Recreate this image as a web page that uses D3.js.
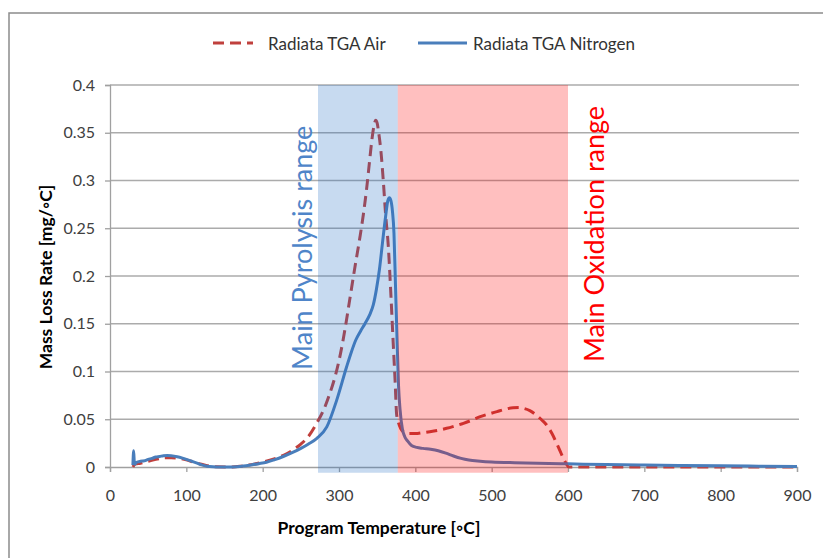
<!DOCTYPE html>
<html>
<head>
<meta charset="utf-8">
<script src="https://cdn.jsdelivr.net/npm/d3@7"></script>
<style>
  body { margin: 0; background: #ffffff; }
  text { font-family: Lato, "Open Sans", "Noto Sans", sans-serif; }
</style>
</head>
<body>
<svg id="chart" width="823" height="558"></svg>
<script>
// Derivative thermogravimetry of radiata pine: mass loss rate vs programme temperature
const airTemp = [30, 33, 40, 50, 60, 70, 80, 90, 100, 110, 120, 130, 140, 155, 170, 185, 200, 215, 228, 240,
  250, 260, 271, 280, 288, 295, 301, 308, 314, 321, 327.5, 332, 336, 340, 343, 346, 348, 350, 352, 355,
  358, 361, 364.6, 368, 371, 373.5, 375.5, 377.7, 381, 385, 392, 400, 410, 419, 430, 441, 452, 463, 474,
  485, 496, 507, 518, 528, 536, 542, 550, 559, 566, 572, 579, 585, 590, 594, 598, 601, 650, 700, 800, 900];
const airRate = [0.0, 0.003, 0.004, 0.006, 0.008, 0.0095, 0.0098, 0.009, 0.0075, 0.005, 0.0028, 0.001, 0.0002,
  0.0, 0.0008, 0.0025, 0.005, 0.0085, 0.0125, 0.018, 0.024, 0.032, 0.046, 0.060, 0.077, 0.095, 0.115, 0.145,
  0.175, 0.21, 0.241, 0.265, 0.29, 0.32, 0.342, 0.358, 0.363, 0.36, 0.35, 0.33, 0.30, 0.265, 0.231, 0.18,
  0.13, 0.09, 0.055, 0.047, 0.040, 0.0365, 0.035, 0.035, 0.036, 0.037, 0.0385, 0.0405, 0.043, 0.0457,
  0.049, 0.0527, 0.0555, 0.058, 0.0605, 0.062, 0.0622, 0.0614, 0.059, 0.054, 0.049, 0.044, 0.035, 0.025,
  0.016, 0.009, 0.003, 0.0, 0.0, 0.0, 0.0, 0.0];

const n2Temp = [30, 31, 32, 35, 40, 45, 50, 55, 60, 65, 70, 75, 80, 88, 95, 100, 107, 114, 120, 127, 135,
  145, 160, 175, 185, 195, 205, 215, 227, 240, 250, 260, 271, 284, 297, 310, 316, 322, 328, 334, 340, 345,
  349, 353, 357, 361, 364, 366, 368, 370, 372, 374, 376, 378, 380, 383, 386, 390, 395, 402, 410, 420, 430,
  440, 450, 460, 470, 485, 500, 530, 560, 600, 650, 700, 750, 800, 850, 900];
const n2Rate = [0.002, 0.017, 0.003, 0.005, 0.006, 0.0065, 0.008, 0.009, 0.0105, 0.011, 0.0118, 0.012,
  0.0118, 0.0108, 0.0093, 0.008, 0.006, 0.004, 0.0022, 0.0008, 0.0002, 0.0, 0.0, 0.001, 0.0022, 0.0035,
  0.005, 0.0075, 0.011, 0.0155, 0.0195, 0.024, 0.030, 0.042, 0.070, 0.105, 0.120, 0.133, 0.142, 0.150,
  0.159, 0.170, 0.186, 0.207, 0.235, 0.262, 0.279, 0.282, 0.279, 0.268, 0.245, 0.19, 0.135, 0.085, 0.06,
  0.04, 0.032, 0.027, 0.0225, 0.0205, 0.0195, 0.0185, 0.017, 0.0145, 0.0115, 0.009, 0.0073, 0.0061,
  0.0053, 0.0045, 0.004, 0.0033, 0.0025, 0.002, 0.0016, 0.0012, 0.0009, 0.0006];

const seriesNames = ["Radiata TGA Air", "Radiata TGA Nitrogen"];

// Temperature ranges highlighted on the plot
const rangeNames = ["Main Pyrolysis range", "Main Oxidation range"];
const rangeStart = [272.5, 377];
const rangeEnd = [377, 600];
const rangeLabelTemp = [250.5, 634];
const rangeLabelRate = [0.2295, 0.244];

const xTicks = [0, 100, 200, 300, 400, 500, 600, 700, 800, 900];
const yTicks = [0, 0.05, 0.1, 0.15, 0.2, 0.25, 0.3, 0.35, 0.4];
const yTickLabels = ["0", "0.05", "0.1", "0.15", "0.2", "0.25", "0.3", "0.35", "0.4"];

const W = 823, H = 558;
const margin = { top: 85, right: 26, bottom: 91, left: 110 };
const innerW = W - margin.left - margin.right;
const innerH = H - margin.top - margin.bottom;

const svg = d3.select("#chart");

// outer chart frame
svg.append("rect")
  .attr("x", 9).attr("y", 13)
  .attr("width", W).attr("height", H)
  .attr("fill", "none").attr("stroke", "#8c8c8c").attr("stroke-width", 1.5);

const g = svg.append("g").attr("transform", `translate(${margin.left},${margin.top})`);

const x = d3.scaleLinear().domain([0, 900]).range([0, innerW]);
const y = d3.scaleLinear().domain([0, 0.4]).range([innerH, 0]);

// horizontal gridlines
g.append("g").selectAll("line").data(yTicks.filter(d => d > 0)).join("line")
  .attr("x1", 0).attr("x2", innerW + 2)
  .attr("y1", d => y(d)).attr("y2", d => y(d))
  .attr("stroke", "#ababab").attr("stroke-width", 1.3);

// axes
const yAxis = g.append("g")
  .call(d3.axisLeft(y).tickValues(yTicks).tickFormat((d, i) => yTickLabels[i]).tickSize(5).tickPadding(10));
const xAxis = g.append("g").attr("transform", `translate(0,${innerH})`)
  .call(d3.axisBottom(x).tickValues(xTicks).tickFormat(d3.format("d")).tickSize(5).tickPadding(18));

[yAxis, xAxis].forEach(a => {
  a.select(".domain").attr("stroke", "#a0a0a0").attr("stroke-width", 1.3);
  a.selectAll(".tick line").attr("stroke", "#a0a0a0").attr("stroke-width", 1.3);
  a.selectAll(".tick text").attr("fill", "#404040").style("font-size", "16px");
});

// series curves
const line = d3.line().x(d => x(d[0])).y(d => y(d[1])).curve(d3.curveMonotoneX);
const airPts = airTemp.map((t, i) => [t, airRate[i]]);
const n2Pts = n2Temp.map((t, i) => [t, n2Rate[i]]);

const airColor = "#c0403d";
const n2Color = "#4a7ebb";

g.append("path").datum(airPts)
  .attr("d", line).attr("fill", "none")
  .attr("stroke", airColor).attr("stroke-width", 3)
  .attr("stroke-dasharray", "11,6");

g.append("path").datum(n2Pts)
  .attr("d", line).attr("fill", "none")
  .attr("stroke", n2Color).attr("stroke-width", 3)
  .attr("stroke-linejoin", "round");

// translucent range bands over the curves
const bandFill = ["rgb(31,106,196)", "rgb(255,0,0)"];
g.append("g").selectAll("rect").data(rangeNames).join("rect")
  .attr("x", (d, i) => x(rangeStart[i]))
  .attr("width", (d, i) => x(rangeEnd[i]) - x(rangeStart[i]))
  .attr("y", y(0.4))
  .attr("height", y(-0.006) - y(0.4))
  .attr("fill", (d, i) => bandFill[i])
  .attr("fill-opacity", 0.25);

// range labels
const rangeTextColor = ["#4f85c9", "#ff0000"];
g.append("g").selectAll("text").data(rangeNames).join("text")
  .attr("transform", (d, i) => `translate(${x(rangeLabelTemp[i])},${y(rangeLabelRate[i])}) rotate(-90)`)
  .attr("text-anchor", "middle")
  .attr("dominant-baseline", "central")
  .attr("fill", (d, i) => rangeTextColor[i])
  .style("font-size", "27px")
  .text(d => d);

// axis titles
svg.append("text")
  .attr("transform", "translate(45,277) rotate(-90)")
  .attr("text-anchor", "middle").attr("dominant-baseline", "central")
  .style("font-size", "17.5px").style("font-weight", "bold").attr("fill", "#000")
  .text("Mass Loss Rate [mg/◦C]");

svg.append("text")
  .attr("x", 379).attr("y", 527)
  .attr("text-anchor", "middle").attr("dominant-baseline", "central")
  .style("font-size", "17.5px").style("font-weight", "bold").attr("fill", "#000")
  .text("Program Temperature [◦C]");

// legend
const legend = svg.append("g");
const legendItems = [
  { name: seriesNames[0], color: airColor, dash: "11,6", x1: 213, x2: 253, tx: 268 },
  { name: seriesNames[1], color: n2Color, dash: null, x1: 418, x2: 467, tx: 473 }
];
legendItems.forEach(it => {
  legend.append("line")
    .attr("x1", it.x1).attr("x2", it.x2).attr("y1", 43).attr("y2", 43)
    .attr("stroke", it.color).attr("stroke-width", 3)
    .attr("stroke-dasharray", it.dash);
  legend.append("text")
    .attr("x", it.tx).attr("y", 43)
    .attr("dominant-baseline", "central")
    .style("font-size", "17px").attr("fill", "#333")
    .text(it.name);
});
</script>
</body>
</html>
